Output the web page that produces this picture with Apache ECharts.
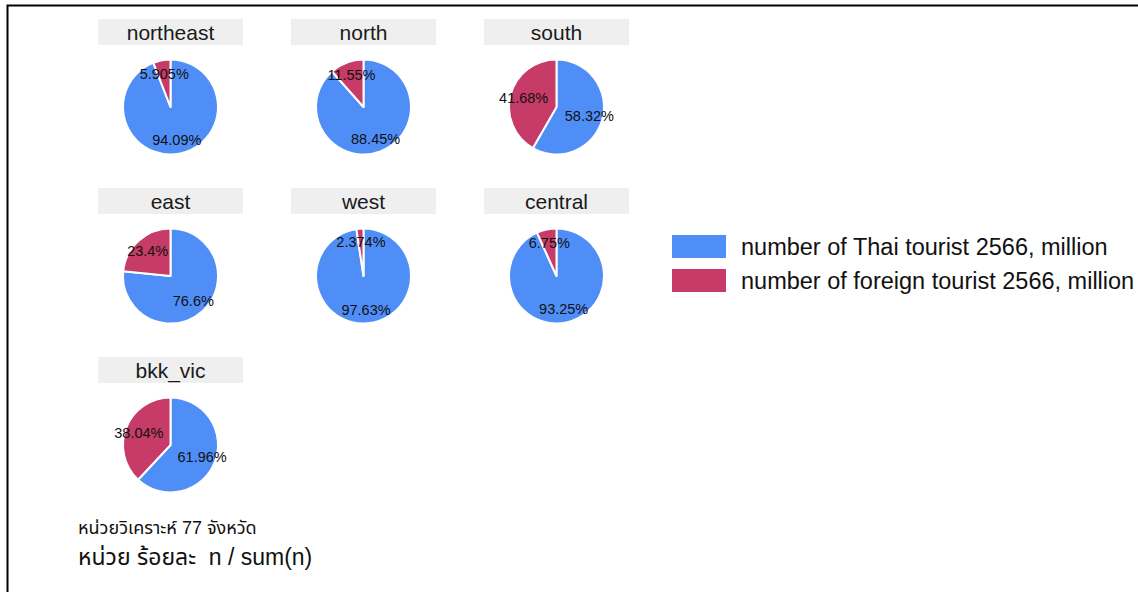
<!DOCTYPE html>
<html>
<head>
<meta charset="utf-8">
<script src="https://cdn.jsdelivr.net/npm/echarts@6/dist/echarts.min.js"></script>
<style>
html,body{margin:0;padding:0;background:#fff;}
#chart{width:1138px;height:592px;}
</style>
</head>
<body>
<div id="chart"></div>
<script>
// ---- data ----
var regions = ['northeast', 'north', 'south', 'east', 'west', 'central', 'bkk_vic'];
var thaiPct = [94.09, 88.45, 58.32, 76.6, 97.63, 93.25, 61.96];
var foreignPct = [5.905, 11.55, 41.68, 23.4, 2.374, 6.75, 38.04];
var seriesNames = ['number of Thai tourist 2566, million', 'number of foreign tourist 2566, million'];
var captionLines = ['หน่วยวิเคราะห์ 77 จังหวัด', 'หน่วย ร้อยละ  n / sum(n)'];

// ---- style ----
var BLUE = '#4F8EF7', RED = '#C63B67';
var FONT = '"Liberation Sans", Arial, sans-serif';
var THAI_FONT = '"Liberation Sans", Arial, Tahoma, "Noto Sans Thai", Loma, Garuda, sans-serif';
var colX = [170.5, 363.5, 556.5];
var rowY = [107, 276, 445];
var R = 47.5;

var chart = echarts.init(document.getElementById('chart'), null, {renderer: 'svg'});

var series = [];
var labelSeries = [];
var graphics = [];

regions.forEach(function (reg, i) {
  var cx = colX[i % 3], cy = rowY[Math.floor(i / 3)];
  var data = [
    {name: seriesNames[0], value: thaiPct[i], itemStyle: {color: BLUE}},
    {name: seriesNames[1], value: foreignPct[i], itemStyle: {color: RED}}
  ];
  series.push({
    type: 'pie', name: reg, center: [cx, cy], radius: [0, R],
    startAngle: 90, clockwise: true, avoidLabelOverlap: false,
    itemStyle: {borderColor: '#fff', borderWidth: 2},
    label: {show: false}, labelLine: {show: false},
    emphasis: {disabled: true}, silent: true, animation: false,
    data: data
  });
  labelSeries.push({
    type: 'pie', name: reg + '_lbl', center: [cx, cy], radius: [0, 62],
    startAngle: 90, clockwise: true, avoidLabelOverlap: false,
    itemStyle: {color: 'rgba(0,0,0,0)', borderWidth: 0},
    label: {show: true, position: 'inside', color: '#111', fontSize: 14.5, fontFamily: FONT,
      formatter: function (p) { return p.value + '%'; }},
    labelLine: {show: false},
    emphasis: {disabled: true}, silent: true, animation: false,
    data: data.map(function (d) { return {name: d.name, value: d.value}; })
  });
  graphics.push({
    type: 'rect', shape: {x: cx - 72.5, y: cy - 88, width: 145, height: 26},
    style: {fill: '#EFEFEF'}, silent: true
  });
  graphics.push({
    type: 'text', x: cx, y: cy - 75,
    style: {text: reg, fontSize: 21, fontFamily: FONT, fill: '#1a1a1a', align: 'center', verticalAlign: 'middle'},
    silent: true
  });
});

graphics.push({
  type: 'text', x: 78, y: 528,
  style: {text: captionLines[0], fontSize: 18, fontFamily: THAI_FONT, fill: '#111', verticalAlign: 'middle'}
});
graphics.push({
  type: 'text', x: 78, y: 557,
  style: {text: captionLines[1], fontSize: 23, fontFamily: THAI_FONT, fill: '#111', verticalAlign: 'middle'}
});
graphics.push({
  type: 'rect', shape: {x: 7.5, y: 5.5, width: 1300, height: 800},
  style: {fill: 'none', stroke: '#000', lineWidth: 2}, silent: true
});

chart.setOption({
  animation: false,
  backgroundColor: '#fff',
  legend: {
    orient: 'vertical', left: 670, top: 233, padding: 0,
    itemWidth: 56, itemHeight: 25, itemGap: 7, icon: 'rect',
    selectedMode: false,
    textStyle: {fontSize: 23.5, fontFamily: FONT, color: '#111', padding: [0, 0, 0, 9]},
    data: [
      {name: seriesNames[0], itemStyle: {color: BLUE}},
      {name: seriesNames[1], itemStyle: {color: RED}}
    ]
  },
  graphic: graphics,
  series: series.concat(labelSeries)
});
</script>
</body>
</html>
